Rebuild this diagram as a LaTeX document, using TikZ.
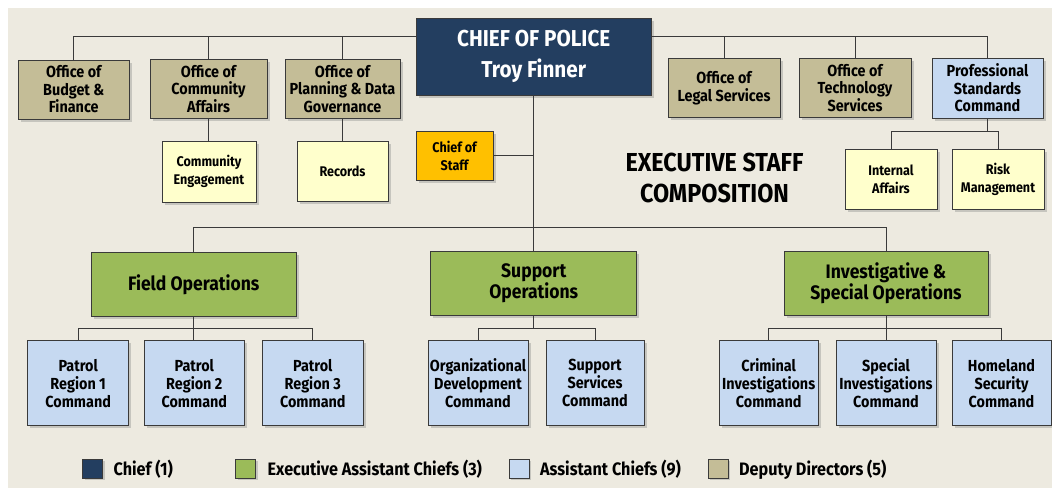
\documentclass[tikz,border=0pt]{standalone}
\usepackage{fontspec}
\setmainfont{Fira Sans}[FakeStretch=0.9]
\usepackage{xcolor}
\usetikzlibrary{shadows,positioning}

\definecolor{bgbeige}{HTML}{EDEAE0}
\definecolor{linegray}{HTML}{3A3A3A}
\definecolor{chiefblue}{HTML}{233E60}
\definecolor{eacgreen}{HTML}{9BBB59}
\definecolor{acblue}{HTML}{C6D9F1}
\definecolor{ddtan}{HTML}{C4BD97}
\definecolor{unityellow}{HTML}{FFFFCC}
\definecolor{staffgold}{HTML}{FFC000}

\begin{document}
\begin{tikzpicture}[x=1pt, y=-1pt, semithick,
  box/.style={draw=linegray, line width=0.8pt, align=center, inner sep=1pt,
    font=\fontsize{16}{17.5}\selectfont\bfseries,
    drop shadow={shadow xshift=2.5pt, shadow yshift=-2.5pt, opacity=0.35}},
  chief/.style={box, fill=chiefblue, text=white, minimum width=235pt, minimum height=77pt,
    font=\fontsize{23}{31}\selectfont\bfseries},
  deputy/.style={box, fill=ddtan, minimum width=112pt, minimum height=59pt},
  eac/.style={box, fill=eacgreen, minimum width=205pt, minimum height=64pt,
    font=\fontsize{19.5}{20.5}\selectfont\bfseries},
  ac/.style={box, fill=acblue, minimum width=100pt, minimum height=85pt,
    font=\fontsize{16}{18}\selectfont\bfseries},
  unit/.style={box, fill=unityellow, minimum width=92pt, minimum height=60pt,
    font=\fontsize{14}{18.5}\selectfont\bfseries},
  link/.style={draw=linegray, line width=0.8pt},
  key/.style={draw=linegray, line width=0.8pt, minimum width=20pt, minimum height=19pt, inner sep=0pt,
    drop shadow={shadow xshift=2pt, shadow yshift=-2pt, opacity=0.35}},
  keytext/.style={anchor=west, font=\fontsize{18}{20}\selectfont\bfseries}]

\useasboundingbox (0,0) rectangle (1052,488);
\fill[bgbeige] (8,8) rectangle (1052,488);

% chief and offices
\node[chief] (chief) at (533.75,56.5) {CHIEF OF POLICE\\Troy Finner};
\node[deputy, minimum width=111pt] (budget) at (73.75,89.5) {Office of\\Budget \&\\Finance};
\node[deputy, minimum width=117pt] (commaff) at (208.5,89) {Office of\\Community\\Affairs};
\node[deputy, minimum width=115pt] (planning) at (342.5,89) {Office of\\Planning \& Data\\Governance};
\node[deputy] (legal) at (724,88) {Office of\\Legal Services};
\node[deputy] (tech) at (855,88) {Office of\\Technology\\Services};
\node[box, fill=acblue, minimum width=111pt, minimum height=60pt] (psc) at (987.5,88) {Professional\\Standards\\Command};

\node[unit, minimum width=94pt, minimum height=61pt] (commeng) at (209,171.5) {Community\\Engagement};
\node[unit, minimum width=91pt] (records) at (342.5,171) {Records};
\node[box, fill=staffgold, minimum width=77pt, minimum height=49pt,
  font=\fontsize{14}{18}\selectfont\bfseries] (staff) at (454.5,155.5) {Chief of\\Staff};
\node[unit] (ia) at (891,179.5) {Internal\\Affairs};
\node[unit] (risk) at (998,179.5) {Risk\\Management};

\node[font=\fontsize{26}{31.5}\selectfont\bfseries, align=center] (title) at (714.5,178)
  {EXECUTIVE STAFF\\COMPOSITION};

% executive assistant chiefs
\node[eac] (field) at (193.75,284.3) {Field Operations};
\node[eac, minimum width=206pt] (support) at (533.75,283.2) {Support\\Operations};
\node[eac, minimum width=204pt] (invest) at (886,283.2) {Investigative \&\\Special Operations};

% assistant chiefs
\node[ac, minimum width=101pt] (pr1) at (78.2,383.2) {Patrol\\Region 1\\Command};
\node[ac] (pr2) at (194.3,383.2) {Patrol\\Region 2\\Command};
\node[ac, minimum width=101pt] (pr3) at (312.8,383.2) {Patrol\\Region 3\\Command};
\node[ac] (orgdev) at (478,383.2) {Organizational\\Development\\Command};
\node[ac, minimum width=98pt] (suppsvc) at (595,383.2) {Support\\Services\\Command};
\node[ac, minimum width=99pt] (crim) at (768.7,383.2) {Criminal\\Investigations\\Command};
\node[ac] (special) at (886,383.2) {Special\\Investigations\\Command};
\node[ac, minimum width=99pt] (homeland) at (1001.5,383.2) {Homeland\\Security\\Command};

% connectors
\coordinate (topbar) at (0,36.8);
\draw[link] (budget.north) |- (topbar -| chief.west);
\draw[link] (commaff.north) -- (commaff.north |- topbar);
\draw[link] (planning.north) -- (planning.north |- topbar);
\draw[link] (chief.east |- topbar) -| (psc.north);
\draw[link] (legal.north) -- (legal.north |- topbar);
\draw[link] (tech.north) -- (tech.north |- topbar);
\draw[link] (commaff.south) -- (commeng.north -| commaff.south);
\draw[link] (planning.south) -- (records.north);
\coordinate (pscbar) at (0,131.5);
\draw[link] (psc.south) -- (psc.south |- pscbar);
\draw[link] (ia.north) |- (pscbar -| risk.north) -- (risk.north);

\coordinate (eacbar) at (0,227.5);
\draw[link] (chief.south) -- (support.north);
\draw[link] (staff.east) -- (staff.east -| chief.south);
\draw[link] (field.north) |- (eacbar -| invest.north) -- (invest.north);

\coordinate (acbar) at (0,328);
\draw[link] (field.south) -- (pr2.north -| field.south);
\draw[link] (pr1.north) |- (acbar -| pr3.north) -- (pr3.north);
\draw[link] (support.south) -- (support.south |- acbar);
\draw[link] (orgdev.north) |- (acbar -| suppsvc.north) -- (suppsvc.north);
\draw[link] (invest.south) -- (special.north);
\draw[link] (crim.north) |- (acbar -| homeland.north) -- (homeland.north);

% legend
\node[key, fill=chiefblue] (k1) at (92.5,468.5) {};
\node[keytext] (t1) at (110,469.5) {Chief (1)};
\node[key, fill=eacgreen] (k2) at (245.5,468.5) {};
\node[keytext] (t2) at (264,469.5) {Executive Assistant Chiefs (3)};
\node[key, fill=acblue] (k3) at (519,468.5) {};
\node[keytext] (t3) at (536.5,469.5) {Assistant Chiefs (9)};
\node[key, fill=ddtan] (k4) at (718,468.5) {};
\node[keytext] (t4) at (735.5,469.5) {Deputy Directors (5)};
\end{tikzpicture}
\end{document}
